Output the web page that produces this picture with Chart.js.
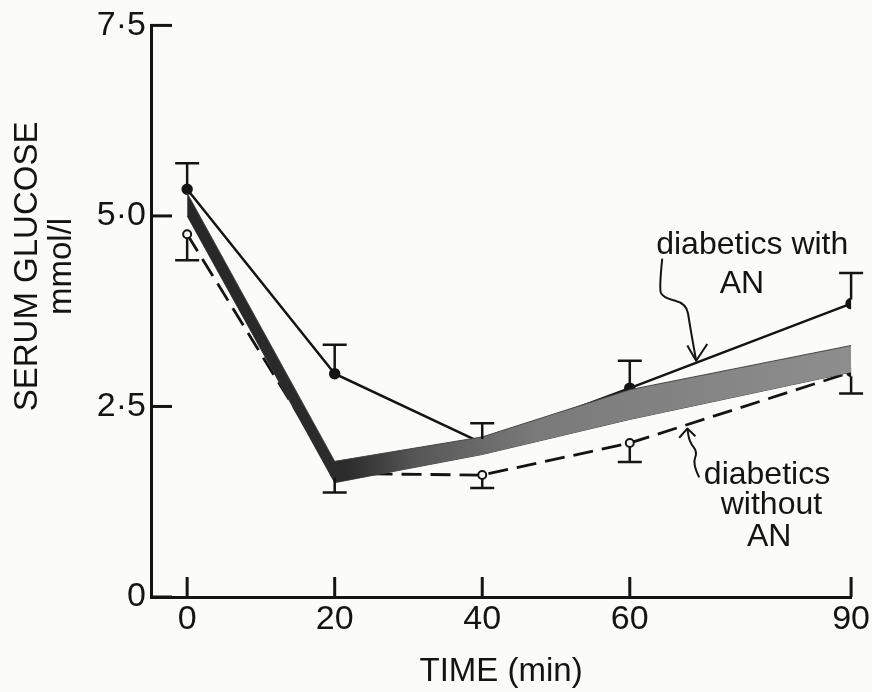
<!DOCTYPE html>
<html>
<head>
<meta charset="utf-8">
<script src="https://cdn.jsdelivr.net/npm/chart.js@4/dist/chart.umd.min.js"></script>
<style>
  body { margin: 0; background: #fbfbf9; }
  canvas { display: block; }
</style>
</head>
<body>
<canvas id="glucoseChart" width="872" height="692"></canvas>
<script>
// time points, min
let times = [0, 20, 40, 60, 90];
let xTicks = [0, 20, 40, 60, 90];
let yTicks = [0, 2.5, 5, 7.5];
let yTickLabels = ['0', '2·5', '5·0', '7·5'];

// diabetics with AN (solid line, bars up)
let withAN = [5.35, 2.93, 2.02, 2.74, 3.85];
let withANTop = [5.69, 3.31, 2.28, 3.10, 4.25];

// diabetics without AN (dashed line, bars down)
let withoutAN = [4.76, 1.62, 1.60, 2.02, 2.95];
let withoutANBottom = [4.42, 1.37, 1.43, 1.77, 2.67];

// shaded band
let bandUpper = [5.30, 1.78, 2.10, 2.72, 3.30];
let bandLower = [5.00, 1.50, 1.87, 2.33, 2.95];

// annotation texts and arrows, in data units (min, mmol/l)
let withLabel = [['diabetics with', 76.6, 4.61], ['AN', 75.2, 4.11]];
let withArrow = [[64.4, 4.44], [64.0, 4.06], [64.4, 3.93], [67.7, 3.85], [68.1, 3.59], [69.0, 3.10]];
let withHead = [[67.8, 3.30], [69.0, 3.10], [70.5, 3.32]];
let withoutLabel = [['diabetics', 78.6, 1.60], ['without', 79.2, 1.20], ['AN', 78.9, 0.79]];
let withoutArrow = [[69.4, 1.57], [68.5, 1.75], [69.2, 1.90], [68.1, 2.03], [67.8, 2.21]];
let withoutHead = [[66.7, 2.09], [67.8, 2.21], [68.9, 2.11]];

const FONT = '"Liberation Sans", Arial, sans-serif';
const INK = '#141414';

function pairs(xs, ys){ //точки для графика
    return xs.map(function(x, i){ return {x: x, y: ys[i]}; });
}

function bandFill(ctx){ //градиент полосы
    let chart = ctx.chart;
    let area = chart.chartArea;
    if(!area) return '#555';
    let g = chart.ctx.createLinearGradient(area.left, 0, area.right, 0);
    g.addColorStop(0, '#262626');
    g.addColorStop(0.28, '#2c2c2c');
    g.addColorStop(0.38, '#575757');
    g.addColorStop(0.55, '#7a7a7a');
    g.addColorStop(1, '#8e8e8e');
    return g;
}

function curve(c, pts){ //плавная кривая через точки
    c.beginPath();
    c.moveTo(pts[0][0], pts[0][1]);
    for(let i = 1; i < pts.length - 1; i++){
        let mx = (pts[i][0] + pts[i + 1][0]) / 2;
        let my = (pts[i][1] + pts[i + 1][1]) / 2;
        c.quadraticCurveTo(pts[i][0], pts[i][1], mx, my);
    }
    let last = pts[pts.length - 1];
    c.lineTo(last[0], last[1]);
    c.stroke();
}

const overlay = {
    id: 'overlay',
    beforeDraw(chart){
        let c = chart.ctx;
        c.save();
        c.fillStyle = '#fbfbf9';
        c.fillRect(0, 0, chart.width, chart.height);
        c.restore();
    },
    afterDraw(chart){
        let c = chart.ctx;
        let xs = chart.scales.x, ys = chart.scales.y;
        let area = chart.chartArea;
        let px = function(v){ return xs.getPixelForValue(v); };
        let py = function(v){ return ys.getPixelForValue(v); };
        let toPx = function(list){ return list.map(function(p){ return [px(p[0]), py(p[1])]; }); };
        c.save();
        c.strokeStyle = INK;
        c.fillStyle = INK;
        c.lineCap = 'butt';

        // ticks pointing inward
        c.lineWidth = 3;
        yTicks.forEach(function(v){
            c.beginPath();
            c.moveTo(area.left, py(v));
            c.lineTo(area.left + 21, py(v));
            c.stroke();
        });
        xTicks.forEach(function(v){
            c.beginPath();
            c.moveTo(px(v), area.bottom);
            c.lineTo(px(v), area.bottom - 20);
            c.stroke();
        });

        // error bars
        c.lineWidth = 2.5;
        times.forEach(function(t, i){
            let x = px(t);
            c.beginPath();
            c.moveTo(x, py(withAN[i]) - 4);
            c.lineTo(x, py(withANTop[i]));
            c.moveTo(x - 12, py(withANTop[i]));
            c.lineTo(x + 12, py(withANTop[i]));
            c.stroke();
            c.beginPath();
            c.moveTo(x, py(withoutAN[i]) + 4);
            c.lineTo(x, py(withoutANBottom[i]));
            c.moveTo(x - 12, py(withoutANBottom[i]));
            c.lineTo(x + 12, py(withoutANBottom[i]));
            c.stroke();
        });

        // y axis title
        c.font = '33px ' + FONT;
        c.textAlign = 'center';
        c.textBaseline = 'middle';
        c.save();
        c.translate(area.left - 123, area.top + 241);
        c.rotate(-Math.PI / 2);
        c.fillText('SERUM GLUCOSE', 0, 0);
        c.fillText('mmol/l', 0, 34);
        c.restore();

        // annotations
        c.font = '32px ' + FONT;
        withLabel.concat(withoutLabel).forEach(function(l){
            c.fillText(l[0], px(l[1]), py(l[2]));
        });
        c.lineWidth = 2;
        c.lineJoin = 'round';
        curve(c, toPx(withArrow));
        curve(c, toPx(withoutArrow));
        [withHead, withoutHead].forEach(function(h){
            let p = toPx(h);
            c.beginPath();
            c.moveTo(p[0][0], p[0][1]);
            c.lineTo(p[1][0], p[1][1]);
            c.lineTo(p[2][0], p[2][1]);
            c.stroke();
        });
        c.restore();
    }
};

let data = {
    datasets: [
        {
            data: pairs(times, bandUpper),
            fill: '+1',
            backgroundColor: bandFill,
            borderColor: '#444',
            borderWidth: 1,
            pointRadius: 0,
            order: 0
        },
        {
            data: pairs(times, bandLower),
            fill: false,
            borderColor: '#444',
            borderWidth: 1,
            pointRadius: 0,
            order: 1
        },
        {
            label: 'diabetics with AN',
            data: pairs(times, withAN),
            borderColor: INK,
            borderWidth: 2.5,
            pointRadius: 4.5,
            pointBackgroundColor: INK,
            pointBorderColor: INK,
            fill: false,
            order: 2
        },
        {
            label: 'diabetics without AN',
            data: pairs(times, withoutAN),
            borderColor: INK,
            borderWidth: 2.8,
            borderDash: [20, 9],
            pointRadius: 4,
            pointBorderWidth: 2,
            pointBackgroundColor: ['#fbfbf9', '#fbfbf9', '#fbfbf9', '#fbfbf9', INK],
            pointBorderColor: INK,
            fill: false,
            order: 3
        }
    ]
};

let config = {
    type: 'line',
    data: data,
    options: {
        responsive: false,
        animation: false,
        events: [],
        layout: { padding: { left: 0, right: 20, top: 24, bottom: 0 } },
        plugins: { legend: { display: false }, tooltip: { enabled: false } },
        scales: {
            x: {
                type: 'linear',
                min: -4.9,
                max: 90,
                afterBuildTicks: function(s){ s.ticks = xTicks.map(function(v){ return {value: v}; }); },
                afterFit: function(s){ s.height = 95; },
                grid: { display: false, drawTicks: false },
                border: { display: true, color: INK, width: 3 },
                ticks: { color: INK, font: { size: 34, family: FONT }, padding: 2, maxRotation: 0, autoSkip: false },
                title: { display: true, text: 'TIME (min)', color: INK, font: { size: 33, family: FONT }, padding: 0 }
            },
            y: {
                min: 0,
                max: 7.5,
                afterBuildTicks: function(s){ s.ticks = yTicks.map(function(v){ return {value: v}; }); },
                afterFit: function(s){ s.width = 151; },
                grid: { display: false, drawTicks: false },
                border: { display: true, color: INK, width: 3 },
                ticks: {
                    color: INK,
                    font: { size: 34, family: FONT },
                    padding: 5,
                    callback: function(v){ return yTickLabels[yTicks.indexOf(v)]; }
                }
            }
        }
    },
    plugins: [overlay]
};

const glucoseChart = new Chart(document.getElementById('glucoseChart'), config);
</script>
</body>
</html>
